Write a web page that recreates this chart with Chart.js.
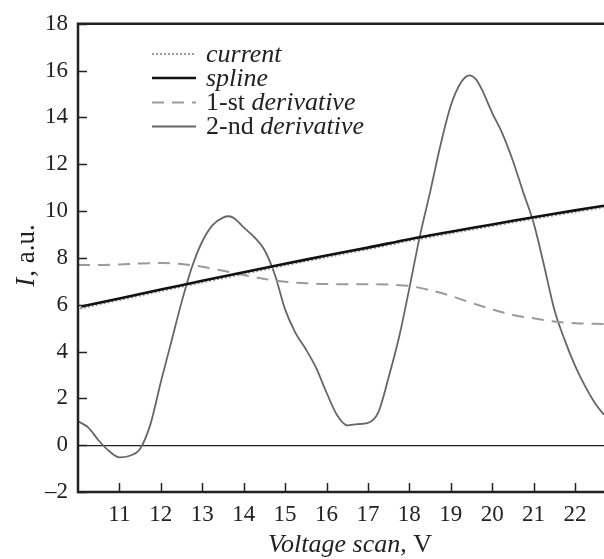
<!DOCTYPE html>
<html>
<head>
<meta charset="utf-8">
<script src="https://cdn.jsdelivr.net/npm/chart.js@4/dist/chart.umd.min.js"></script>
<style>
html,body{margin:0;padding:0;background:#fff;}
#wrap{width:604px;height:559px;position:relative;}
</style>
</head>
<body>
<div id="wrap"><canvas id="c" width="604" height="559"></canvas></div>
<script>
// ---- data ----
const splineX = [10.08, 11, 12, 13, 14, 15, 16, 17, 18, 19, 20, 21, 22, 22.7];
const splineY = [5.92, 6.27, 6.65, 7.02, 7.39, 7.75, 8.10, 8.44, 8.80, 9.12, 9.43, 9.74, 10.03, 10.23];
const currentX = [10.05, 11, 12, 13, 14, 15, 16, 17, 18, 19, 20, 21, 22, 22.7];
const currentY = [5.84, 6.20, 6.58, 6.95, 7.32, 7.68, 8.03, 8.37, 8.73, 9.05, 9.36, 9.67, 9.96, 10.16];
const deriv1X = [10, 10.5, 11, 11.5, 12, 12.5, 13, 13.5, 14, 14.5, 15, 15.5, 16, 16.5, 17, 17.5, 18, 18.5, 19, 19.5, 20, 20.5, 21, 21.5, 22, 22.7];
const deriv1Y = [7.70, 7.70, 7.72, 7.76, 7.78, 7.74, 7.62, 7.45, 7.27, 7.10, 6.98, 6.92, 6.88, 6.87, 6.87, 6.86, 6.80, 6.62, 6.38, 6.08, 5.80, 5.56, 5.42, 5.28, 5.21, 5.18];
const deriv2X = [10, 10.25, 10.5, 10.75, 11, 11.25, 11.5, 11.75, 12, 12.25, 12.5, 12.75, 13, 13.25, 13.5, 13.65, 13.8, 14, 14.25, 14.5, 14.75, 15, 15.25, 15.5, 15.75, 16, 16.25, 16.5, 16.75, 17, 17.25, 17.5, 17.75, 18, 18.25, 18.5, 18.75, 19, 19.25, 19.45, 19.6, 19.75, 20, 20.25, 20.5, 20.75, 21, 21.25, 21.5, 21.75, 22, 22.25, 22.5, 22.7];
const deriv2Y = [1.02, 0.75, 0.20, -0.25, -0.52, -0.45, -0.15, 0.90, 2.70, 4.40, 6.10, 7.60, 8.70, 9.40, 9.72, 9.78, 9.65, 9.30, 8.90, 8.35, 7.30, 5.80, 4.80, 4.10, 3.30, 2.25, 1.30, 0.85, 0.90, 0.95, 1.40, 2.90, 4.60, 6.70, 8.90, 10.80, 12.80, 14.50, 15.50, 15.80, 15.65, 15.20, 14.20, 13.30, 12.15, 10.80, 9.50, 7.70, 5.80, 4.50, 3.40, 2.50, 1.75, 1.30];
const xTicks = [11, 12, 13, 14, 15, 16, 17, 18, 19, 20, 21, 22];
const yTicks = [-2, 0, 2, 4, 6, 8, 10, 12, 14, 16, 18];
const legendItems = [
  {parts: [["current", true]]},
  {parts: [["spline", true]]},
  {parts: [["1-st ", false], ["derivative", true]]},
  {parts: [["2-nd ", false], ["derivative", true]]}
];

const pts = (xs, ys) => xs.map((x, i) => ({x: x, y: ys[i]}));
const FONT = '"Liberation Serif", "Times New Roman", serif';

const styles = [
  {color: '#9a9a9a', width: 2, dash: [2, 2]},
  {color: '#111111', width: 2.6, dash: []},
  {color: '#9a9a9a', width: 2, dash: [12, 8]},
  {color: '#666666', width: 1.8, dash: []}
];

const decor = {
  id: 'decor',
  afterDraw(chart) {
    const ctx = chart.ctx;
    const a = chart.chartArea;
    const xs = chart.scales.x, ys = chart.scales.y;
    ctx.save();
    ctx.strokeStyle = '#222';
    // inward ticks
    ctx.lineWidth = 1.5;
    xTicks.forEach(v => {
      const px = Math.round(xs.getPixelForValue(v)) + 0.5;
      ctx.beginPath(); ctx.moveTo(px, a.bottom); ctx.lineTo(px, a.bottom - 9); ctx.stroke();
    });
    yTicks.forEach(v => {
      const py = Math.round(ys.getPixelForValue(v)) + 0.5;
      ctx.beginPath(); ctx.moveTo(a.left, py); ctx.lineTo(a.left + 9, py); ctx.stroke();
    });
    // frame
    ctx.lineWidth = 2.5;
    ctx.beginPath();
    ctx.moveTo(a.right + 2, a.top); ctx.lineTo(a.left, a.top);
    ctx.lineTo(a.left, a.bottom); ctx.lineTo(a.right + 2, a.bottom);
    ctx.stroke();
    // legend
    const lx0 = 152, lx1 = 196, tx = 206;
    const rows = [54, 78, 102.5, 126.5];
    legendItems.forEach((it, i) => {
      const s = styles[i];
      ctx.strokeStyle = s.color; ctx.lineWidth = s.width; ctx.setLineDash(s.dash);
      ctx.beginPath(); ctx.moveTo(lx0, rows[i]); ctx.lineTo(lx1, rows[i]); ctx.stroke();
      ctx.setLineDash([]);
      let x = tx;
      ctx.fillStyle = '#222'; ctx.textBaseline = 'middle'; ctx.textAlign = 'left';
      it.parts.forEach(p => {
        ctx.font = (p[1] ? 'italic ' : '') + '26px ' + FONT;
        ctx.fillText(p[0], x, rows[i] + 1);
        x += ctx.measureText(p[0]).width;
      });
    });
    // x title
    ctx.fillStyle = '#222'; ctx.textBaseline = 'alphabetic';
    const p1 = 'Voltage scan', p2 = ', V';
    ctx.font = 'italic 26px ' + FONT; const w1 = ctx.measureText(p1).width;
    ctx.font = '26px ' + FONT; const w2 = ctx.measureText(p2).width;
    let sx = 350 - (w1 + w2) / 2;
    ctx.font = 'italic 26px ' + FONT; ctx.fillText(p1, sx, 552);
    ctx.font = '26px ' + FONT; ctx.fillText(p2, sx + w1, 552);
    // y title
    ctx.translate(34, 256);
    ctx.rotate(-Math.PI / 2);
    const q1 = 'I', q2 = ', a.u.';
    ctx.font = 'italic 27px ' + FONT; const v1 = ctx.measureText(q1).width;
    ctx.font = '27px ' + FONT; const v2 = ctx.measureText(q2).width;
    let sy = -(v1 + v2) / 2;
    ctx.font = 'italic 27px ' + FONT; ctx.fillText(q1, sy, 0);
    ctx.font = '27px ' + FONT; ctx.fillText(q2, sy + v1 + 1, 0);
    ctx.restore();
  }
};

new Chart(document.getElementById('c'), {
  type: 'line',
  data: {
    datasets: [
      {label: 'current', data: pts(currentX, currentY), borderColor: styles[0].color, borderWidth: styles[0].width, borderDash: styles[0].dash, tension: 0.3, order: 2},
      {label: 'spline', data: pts(splineX, splineY), borderColor: styles[1].color, borderWidth: styles[1].width, tension: 0.3, order: 1},
      {label: '1-st derivative', data: pts(deriv1X, deriv1Y), borderColor: styles[2].color, borderWidth: styles[2].width, borderDash: styles[2].dash, cubicInterpolationMode: 'monotone', order: 3},
      {label: '2-nd derivative', data: pts(deriv2X, deriv2Y), borderColor: styles[3].color, borderWidth: styles[3].width, cubicInterpolationMode: 'monotone', order: 4}
    ]
  },
  options: {
    responsive: false,
    animation: false,
    devicePixelRatio: 1,
    elements: {point: {radius: 0}},
    layout: {padding: {top: 18, left: 0, right: 0, bottom: 0}},
    plugins: {legend: {display: false}, tooltip: {enabled: false}},
    scales: {
      x: {
        type: 'linear', min: 10, max: 22.7,
        afterBuildTicks: s => { s.ticks = xTicks.map(v => ({value: v})); },
        afterFit: s => { s.height = 67; },
        grid: {display: false, drawTicks: false},
        border: {display: false},
        ticks: {padding: 9, color: '#222', font: {family: FONT, size: 23}, maxRotation: 0, autoSkip: false}
      },
      y: {
        type: 'linear', min: -2, max: 18,
        afterBuildTicks: s => { s.ticks = yTicks.map(v => ({value: v})); },
        afterFit: s => { s.width = 78; },
        grid: {drawTicks: false, color: c => (c.tick && c.tick.value === 0) ? '#222' : 'rgba(0,0,0,0)', lineWidth: 1.3},
        border: {display: false},
        ticks: {padding: 10, color: '#222', font: {family: FONT, size: 23}, autoSkip: false,
          callback: v => String(v).replace('-', '\u2013')}
      }
    }
  },
  plugins: [decor]
});
</script>
</body>
</html>
